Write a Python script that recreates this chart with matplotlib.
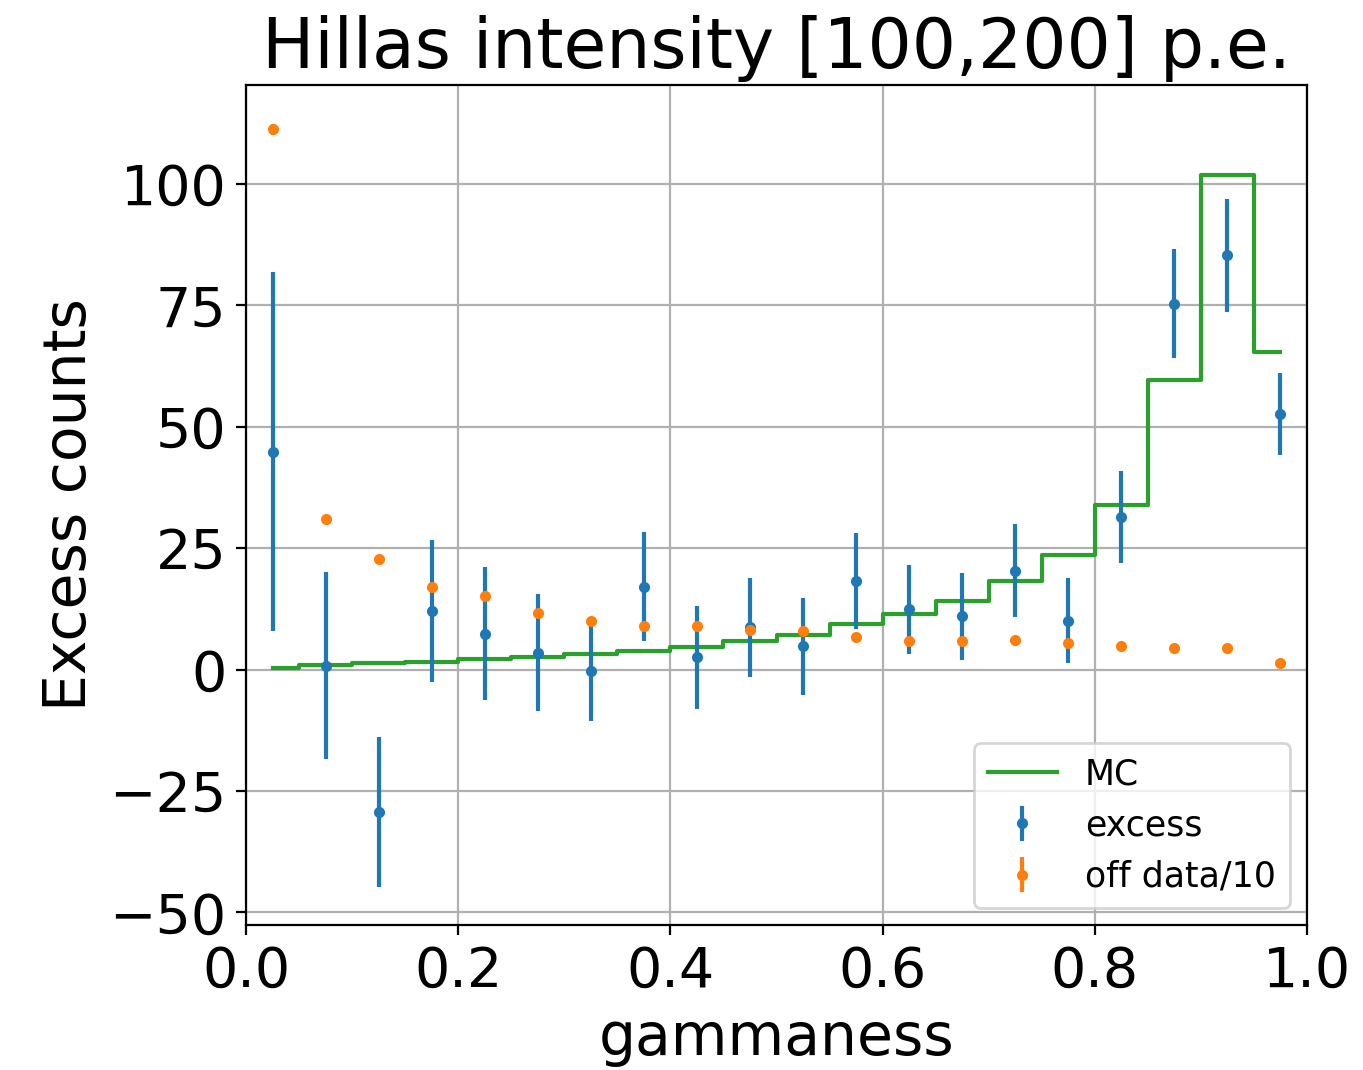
import numpy as np
import matplotlib
matplotlib.use("Agg")
import matplotlib.pyplot as plt

# gammaness bin centres (20 bins of width 0.05)
gammaness = np.arange(0.025, 1.0, 0.05)

# background-subtracted excess and its uncertainty
excess = [44.9, 0.8, -29.3, 12.0, 7.4, 3.5, -0.2, 17.1, 2.5, 8.7,
          4.8, 18.2, 12.4, 11.0, 20.4, 10.1, 31.5, 75.4, 85.3, 52.7]
excess_err = [37.0, 19.3, 15.5, 14.6, 13.7, 12.0, 10.4, 11.2, 10.6, 10.2,
              10.0, 9.9, 9.2, 9.0, 9.6, 8.7, 9.5, 11.3, 11.6, 8.4]

# off-region counts scaled by 1/10
off_data = [111.3, 31.1, 22.7, 17.1, 15.2, 11.6, 10.1, 8.9, 8.9, 8.1,
            8.0, 6.8, 6.0, 6.0, 6.1, 5.5, 4.8, 4.4, 4.4, 1.4]
off_err = [1.1, 0.6, 0.5, 0.4, 0.4, 0.3, 0.3, 0.3, 0.3, 0.3,
           0.3, 0.3, 0.2, 0.2, 0.2, 0.2, 0.2, 0.2, 0.2, 0.1]

# Monte Carlo expectation
mc = [0.4, 0.95, 1.3, 1.6, 2.1, 2.6, 3.2, 3.8, 4.7, 6.0,
      7.1, 9.4, 11.5, 14.2, 18.2, 23.6, 34.0, 59.6, 101.8, 65.4]

fig = plt.figure(figsize=(6.815, 5.35), dpi=200)
ax = fig.add_axes([0.1805, 0.1355, 0.7784, 0.785])

ax.step(gammaness, mc, where="mid", color="C2", label="MC")
ax.errorbar(gammaness, excess, yerr=excess_err, fmt=".", color="C0", label="excess")
ax.errorbar(gammaness, off_data, yerr=off_err, fmt=".", color="C1", label="off data/10")

ax.set_xlim(0, 1)
ax.set_ylim(-52.6, 120.4)
ax.set_yticks([-50, -25, 0, 25, 50, 75, 100])
ax.grid(True)
ax.tick_params(labelsize=20)
ax.set_xlabel("gammaness", fontsize=21)
ax.set_ylabel("Excess counts", fontsize=21)
ax.set_title("Hillas intensity [100,200] p.e.", fontsize=25)
ax.legend(loc="lower right", fontsize=12.5)

fig.savefig("out.png", dpi=200)
